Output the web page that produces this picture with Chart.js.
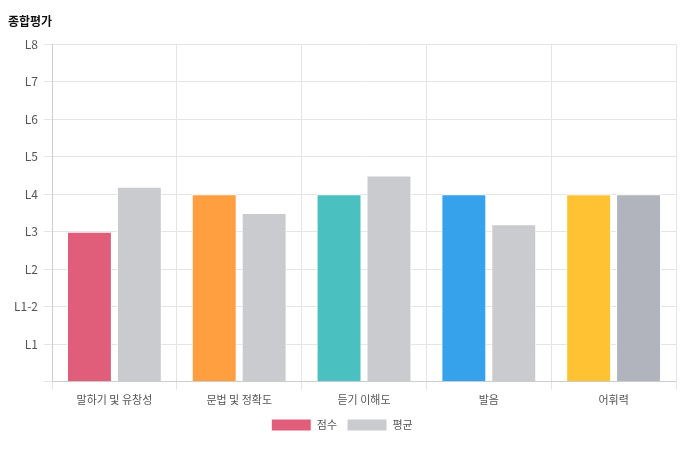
<!DOCTYPE html>
<html><head><meta charset="utf-8">
<script src="https://cdn.jsdelivr.net/npm/chart.js@4/dist/chart.umd.min.js"></script>
<style>body{margin:0;background:#fff}#w{width:698px;height:463px}</style>
</head><body><div id="w"><canvas id="c"></canvas></div>
<script>
const categories = ['말하기 및 유창성','문법 및 정확도','듣기 이해도','발음','어휘력'];
const scoreValues = [4,5,5,5,5];
const averageValues = [5.2,4.5,5.5,4.2,5.0];
const tickLabels = ['','L1','L1-2','L2','L3','L4','L5','L6','L7','L8'];
const scoreColors = ['#e05e7a','#ff9f40','#4bc0c0','#36a2eb','#ffc233'];
const avgColors = ['#c9cbcf','#c9cbcf','#c9cbcf','#c9cbcf','#b1b4bd'];
Chart.defaults.font.family = "'Noto Sans CJK KR','Noto Sans',sans-serif";
Chart.defaults.color = '#555';
new Chart(document.getElementById('c'), {
  type:'bar',
  data:{labels:categories,datasets:[
    {label:'점수',data:scoreValues,backgroundColor:scoreColors,borderColor:'#fff',borderWidth:1,categoryPercentage:0.8,barPercentage:0.9},
    {label:'평균',data:averageValues,backgroundColor:avgColors,borderColor:'#fff',borderWidth:1,categoryPercentage:0.8,barPercentage:0.9}
  ]},
  options:{responsive:true,maintainAspectRatio:false,animation:false,
    layout:{padding:{left:8,right:22,top:6,bottom:22}},
    plugins:{
      title:{display:true,text:'종합평가',align:'start',color:'#111',font:{size:12,weight:'bold'},padding:{top:8,bottom:16}},
      legend:{position:'bottom',labels:{boxWidth:40,boxHeight:12,font:{size:11},color:'#555',generateLabels:(ch)=>ch.data.datasets.map((d,i)=>({text:d.label,fillStyle:i?'#c9cbcf':'#e05e7a',strokeStyle:'#fff',lineWidth:1,datasetIndex:i,fontColor:'#555'}))}},
      tooltip:{enabled:false}
    },
    scales:{
      x:{grid:{color:'#e5e5e5',offset:true},ticks:{font:{size:11},color:'#555'}},
      y:{min:0,max:9,grid:{color:'#e5e5e5'},ticks:{stepSize:1,font:{size:12},color:'#555',padding:6,callback:v=>tickLabels[v]}}
    }
  }
});
</script></body></html>
